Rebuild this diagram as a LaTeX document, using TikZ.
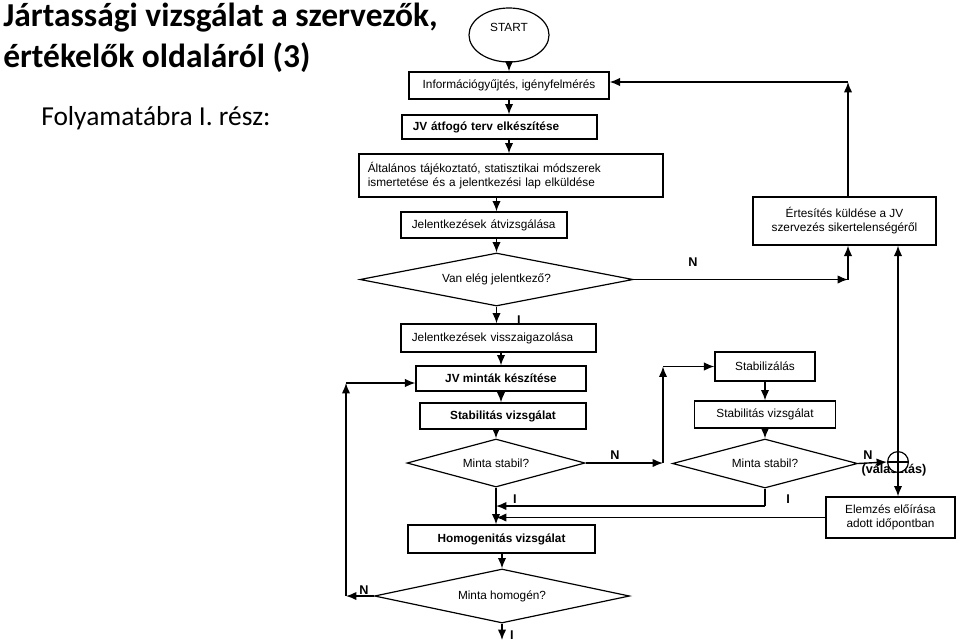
\documentclass[tikz,border=0pt]{standalone}
\usepackage{fontspec}
\setmainfont{Liberation Sans}
\newfontfamily\titlefont{Carlito}
\usepackage{tikz}
\usetikzlibrary{shapes.geometric, arrows.meta, positioning}
\definecolor{flowink}{RGB}{0, 0, 0}
\tikzset{
    process/.style={rectangle, draw=flowink, line width=0.85pt, inner sep=0pt, text centered, font=\fontsize{8.4}{10}\selectfont},
    processleft/.style={process, align=left, inner xsep=0.27cm},
    processbold/.style={process, font=\fontsize{8.4}{10}\selectfont\bfseries},
    decision/.style={diamond, draw=flowink, line width=0.85pt, inner sep=0pt, font=\fontsize{8.4}{10}\selectfont},
    terminal/.style={ellipse, draw=flowink, line width=0.85pt, inner sep=0pt, font=\fontsize{8.4}{10}\selectfont},
    junction/.style={circle, draw=flowink, fill=white, line width=0.85pt, inner sep=0pt, minimum size=0.52cm,
        path picture={\draw[line width=0.85pt] (path picture bounding box.west) -- (path picture bounding box.east);
                      \draw[line width=0.85pt] (path picture bounding box.north) -- (path picture bounding box.south);}},
    answer/.style={font=\fontsize{9}{10}\selectfont\bfseries, inner sep=0pt},
    arrow/.style={line width=1pt, ->, >={Latex[length=2.6mm,width=2.1mm]}}
}

\begin{document}
\begin{tikzpicture}[x=0.025cm, y=-0.025cm]
    \useasboundingbox (0,0) rectangle (960,641);

    % Title
    \node[anchor=north west, inner sep=0pt, align=left, font=\titlefont\bfseries\fontsize{23.8}{24}\selectfont] (title) at (3,3)
        {Jártassági vizsgálat a szervezők,\\[0.17cm]értékelők oldaláról (3)};
    \node[anchor=base west, inner sep=0pt, font=\titlefont\fontsize{19.5}{22}\selectfont] (subtitle) at (41,125)
        {Folyamatábra I. rész:};

    % Main column
    \node[terminal, minimum width=2cm, minimum height=1.35cm] (start) at (509,35) {\raisebox{0.4cm}{START}};
    \node[process, minimum width=5cm, minimum height=0.675cm] (info) at (509,85.5) {Információgyűjtés, igényfelmérés};
    \node[processleft, text width=4.335cm, minimum height=0.6cm, font=\fontsize{8.4}{10}\selectfont\bfseries] (jvterv) at (499.5,127) {JV átfogó terv elkészítése};
    \node[processleft, inner xsep=0.22cm, text width=7.16cm, minimum height=1.075cm] (altalanos) at (511,175.5)
        {Általános tájékoztató, statisztikai módszerek\\ismertetése és a jelentkezési lap elküldése};
    \node[processleft, text width=3.61cm, minimum height=0.65cm] (atviz) at (484,225) {Jelentkezések átvizsgálása};
    \node[decision, aspect=5.2, minimum width=6.825cm, minimum height=1.325cm] (vanelege) at (496.5,279.5) {Van elég jelentkező?};
    \node[processleft, text width=4.335cm, minimum height=0.7cm] (visszaig) at (498.5,338) {Jelentkezések visszaigazolása};
    \node[processbold, minimum width=4.25cm, minimum height=0.625cm] (jvmintak) at (501,378.5) {JV minták készítése};
    \node[processbold, minimum width=4.15cm, minimum height=0.65cm] (stab1) at (503,416) {Stabilitás vizsgálat};
    \node[decision, aspect=3.7, minimum width=4.45cm, minimum height=1.2cm] (minta1) at (496,463) {Minta stabil?};
    \node[processbold, minimum width=4.675cm, minimum height=0.7cm] (homog) at (501.5,539) {Homogenitás vizsgálat};
    \node[decision, aspect=4.7, minimum width=6.375cm, minimum height=1.35cm] (homogen) at (502,596) {Minta homogén?};

    % Right side
    \node[process, align=center, minimum width=4.575cm, minimum height=1.2cm] (ertesites) at (844.5,221)
        {Értesítés küldése a JV\\szervezés sikertelenségéről};
    \node[process, minimum width=2.5cm, minimum height=0.725cm] (stabilizalas) at (765,366.5) {Stabilizálás};
    \node[process, minimum width=3.525cm, minimum height=0.675cm] (stab2) at (765,414.5) {Stabilitás vizsgálat};
    \node[decision, aspect=3.8, minimum width=4.625cm, minimum height=1.225cm] (minta2) at (765,463.5) {Minta stabil?};
    \node[process, align=center, minimum width=3.225cm, minimum height=1.025cm] (elemzes) at (890.5,517.5)
        {Elemzés előírása\\adott időpontban};
    \node[answer] (valasztlabel) at (894,470) {(választás)};
    \node[junction] (valaszt) at (898,462) {};

    % Turning points
    \coordinate (nturn) at (848,279.5);
    \coordinate (backturn) at (848,82);
    \coordinate (stabturnlow) at (663,463);
    \coordinate (stabturnhigh) at (663,366.5);
    \coordinate (okturn) at (765,506);
    \coordinate (loopbot) at (346,596);
    \coordinate (looptop) at (346,383);
    \coordinate (exit) at (502,640);

    % Straight flow
    \draw[arrow] (start.south) -- (info.north);
    \draw[arrow] (info.south) -- (info.south |- jvterv.north);
    \draw[arrow] (info.south |- jvterv.south) -- (info.south |- altalanos.north);
    \draw[arrow] (vanelege |- altalanos.south) -- (vanelege |- atviz.north);
    \draw[arrow] (vanelege |- atviz.south) -- (vanelege.north);
    \draw[arrow] (vanelege.south) -- (vanelege |- visszaig.north);
    \draw[arrow] (jvmintak |- visszaig.south) -- (jvmintak.north);
    \draw[arrow] (jvmintak.south) -- (jvmintak |- stab1.north);
    \draw[arrow] (minta1 |- stab1.south) -- (minta1.north);
    \draw[arrow] (minta1.south) -- (minta1.south |- homog.north);
    \draw[arrow] (homogen |- homog.south) -- (homogen.north);
    \draw[arrow] (homogen.south) -- (exit);

    % Not enough applicants
    \draw[arrow] (vanelege.east) -- (nturn);
    \draw[arrow] (nturn) -- (nturn |- ertesites.south);
    \draw[arrow] (nturn |- ertesites.north) -- (backturn);
    \draw[arrow] (backturn) -- (info.east |- backturn);

    % Stabilisation branch
    \draw[arrow] (minta1.east) -- (stabturnlow);
    \draw[arrow] (stabturnlow) -- (stabturnhigh);
    \draw[arrow] (stabturnhigh) -- (stabilizalas.west);
    \draw[arrow] (stabilizalas.south) -- (stab2.north);
    \draw[arrow] (stab2.south) -- (minta2.north);
    \draw[line width=1pt] (minta2.south) -- (okturn);
    \draw[arrow] (okturn) -- (minta1.south |- okturn);
    \draw[arrow] (minta2.east) -- (valaszt.west);
    \draw[arrow] (valaszt.north) -- (valaszt.north |- ertesites.south);
    \draw[arrow] (valaszt.south) -- (valaszt.south |- elemzes.north);
    \draw[arrow] (elemzes.west) -- (minta1.south |- elemzes.west);

    % Not homogeneous
    \draw[arrow] (homogen.west) -- (loopbot);
    \draw[arrow] (loopbot) -- (looptop);
    \draw[arrow] (looptop) -- (jvmintak.west |- looptop);

    % Answers
    \node[answer] (n1) at (693,262) {N};
    \node[answer] (i1) at (519,320) {I};
    \node[answer] (n2) at (615,455) {N};
    \node[answer] (i2) at (515,499) {I};
    \node[answer] (i3) at (788,499) {I};
    \node[answer] (n3) at (868,455) {N};
    \node[answer] (n4) at (364,590) {N};
    \node[answer] (i4) at (512,635) {I};
\end{tikzpicture}
\end{document}
